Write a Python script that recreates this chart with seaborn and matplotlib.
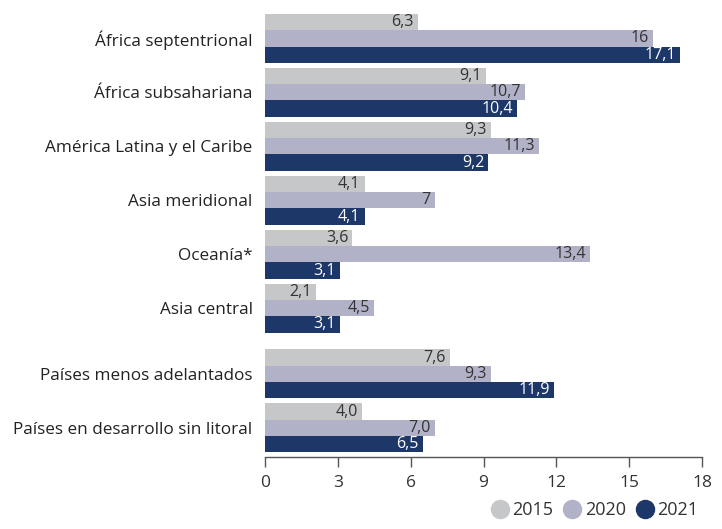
import numpy as np
import pandas as pd
import seaborn as sns
import matplotlib.pyplot as plt
from matplotlib.lines import Line2D

# datos
regiones = ['África septentrional', 'África subsahariana', 'América Latina y el Caribe',
            'Asia meridional', 'Oceanía*', 'Asia central',
            'Países menos adelantados', 'Países en desarrollo sin litoral']
anios = ['2015', '2020', '2021']
v2015 = [6.3, 9.1, 9.3, 4.1, 3.6, 2.1, 7.6, 4.0]
v2020 = [16, 10.7, 11.3, 7, 13.4, 4.5, 9.3, 7.0]
v2021 = [17.1, 10.4, 9.2, 4.1, 3.1, 3.1, 11.9, 6.5]
et2015 = ['6,3', '9,1', '9,3', '4,1', '3,6', '2,1', '7,6', '4,0']
et2020 = ['16', '10,7', '11,3', '7', '13,4', '4,5', '9,3', '7,0']
et2021 = ['17,1', '10,4', '9,2', '4,1', '3,1', '3,1', '11,9', '6,5']
xticks = [0, 3, 6, 9, 12, 15, 18]

colores = ['#c6c7c9', '#b1b2c8', '#1c3768']
col_texto = ['#333333', '#333333', '#ffffff']

sns.set_style('white')
plt.rcParams['font.family'] = ['Open Sans', 'DejaVu Sans']

# posiciones de los grupos (hueco extra antes de los dos últimos)
pos = [0, 1, 2, 3, 4, 5, 6.22, 7.22]

df = pd.DataFrame({
    'region': regiones * 3,
    'pos': pos * 3,
    'anio': np.repeat(anios, len(regiones)),
    'valor': v2015 + v2020 + v2021,
})

fig = plt.figure(figsize=(7.22, 5.29), dpi=100)
ax = fig.add_axes([265 / 722, 1 - 457 / 529, 437 / 722, 444 / 529])

sns.barplot(data=df, x='valor', y='pos', hue='anio', hue_order=anios,
            palette=colores, orient='y', native_scale=True, width=0.91,
            saturation=1, errorbar=None, legend=False, linewidth=0, ax=ax)

ax.set_ylim(7.76, -0.47)
ax.set_xlim(0, 18)

# etiquetas de valores, dentro de la barra
etiquetas = [et2015, et2020, et2021]
for i, cont in enumerate(ax.containers):
    ax.bar_label(cont, labels=etiquetas[i], padding=-3, label_type='edge',
                 fontsize=11.5, color=col_texto[i])
for t in ax.texts:
    t.set_horizontalalignment('right')

ax.set_yticks(pos)
ax.set_yticklabels(regiones, fontsize=12.3, color='#222222')
ax.tick_params(axis='y', length=0, pad=9)
ax.set_xticks(xticks)
ax.set_xticklabels([str(x) for x in xticks], fontsize=12.5, color='#333333')
ax.tick_params(axis='x', direction='out', length=7, width=1, color='#555555',
               pad=6, bottom=True)
ax.set_xlabel('')
ax.set_ylabel('')
for s in ['top', 'right', 'left']:
    ax.spines[s].set_visible(False)
ax.spines['bottom'].set_color('#555555')
ax.spines['bottom'].set_linewidth(1)

handles = [Line2D([], [], marker='o', linestyle='', markersize=13,
                  markerfacecolor=c, markeredgecolor=c) for c in colores]
fig.legend(handles, anios, loc='lower right', bbox_to_anchor=(0.99, -0.012),
           ncol=3, frameon=False, fontsize=13, handletextpad=0.2,
           columnspacing=0.55, handlelength=1.0, labelcolor='#333333')

fig.savefig('out.png', dpi=100)
